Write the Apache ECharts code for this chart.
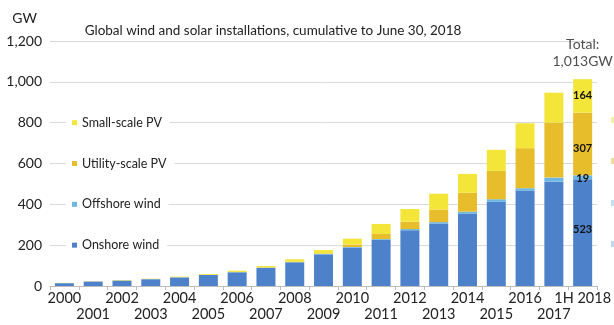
<!DOCTYPE html>
<html>
<head>
<meta charset="utf-8">
<script src="https://cdn.jsdelivr.net/npm/echarts@6/dist/echarts.min.js"></script>
<style>
  html, body { margin: 0; padding: 0; background: #fff; }
  #chart { width: 614px; height: 325px; }
</style>
</head>
<body>
<div id="chart"></div>
<script>
// Cumulative installed capacity, GW
const categories = ['2000', '2001', '2002', '2003', '2004', '2005', '2006', '2007', '2008', '2009',
  '2010', '2011', '2012', '2013', '2014', '2015', '2016', '2017', '1H 2018'];
const onshoreWind = [14, 22, 27, 33, 42, 54, 67, 89, 116, 155, 188, 226, 273, 306, 355, 412, 466, 511, 523];
const offshoreWind = [0, 0, 0, 1, 1, 1, 1, 1, 1, 2, 3, 4, 6, 7, 9, 13, 13, 20, 19];
const utilityPV = [0, 0, 0, 0, 0, 0, 1, 1, 2, 3, 12, 25, 36, 61, 93, 139, 196, 269, 307];
const smallPV = [1, 1, 2, 2, 3, 4, 6, 7, 12, 16, 29, 49, 62, 78, 92, 103, 122, 147, 164];
const yTicks = [0, 200, 400, 600, 800, 1000, 1200];

const FONT = 'Lato';
const last = categories.length - 1;
const totals = categories.map((c, i) => onshoreWind[i] + offshoreWind[i] + utilityPV[i] + smallPV[i]);
const fmt = v => v.toLocaleString('en-US');

const seriesDefs = [
  { name: 'Onshore wind', values: onshoreWind, color: '#4d82cb', offset: [0, -3] },
  { name: 'Offshore wind', values: offshoreWind, color: '#6cb7e4', offset: [0, 1] },
  { name: 'Utility-scale PV', values: utilityPV, color: '#e8bd2c', offset: [0, 4] },
  { name: 'Small-scale PV', values: smallPV, color: '#f3e639', offset: [0, 0] }
];

// Only the latest bar carries its segment values
const barSeries = seriesDefs.map(s => ({
  name: s.name,
  type: 'bar',
  stack: 'capacity',
  barWidth: 19,
  itemStyle: { color: s.color },
  emphasis: { disabled: true },
  data: s.values.map((v, i) => i === last ? {
    value: v,
    label: {
      show: true, position: 'inside', offset: s.offset,
      fontFamily: FONT, fontSize: 11, fontWeight: 'bold', color: '#111'
    }
  } : v)
}));

// Total above the latest bar
const totalSeries = {
  name: 'Total',
  type: 'scatter',
  symbolSize: 0,
  silent: true,
  data: totals.map((t, i) => i === last ? t : '-'),
  label: {
    show: true, position: 'top', distance: 9,
    fontFamily: FONT, fontSize: 14, lineHeight: 17, color: '#222',
    formatter: p => 'Total:\n' + fmt(p.value) + 'GW'
  }
};

// One legend per series, each sitting on its own gridline
const gridTop = 41, gridHeight = 245;
const legendRows = [
  { name: 'Small-scale PV', level: 800 },
  { name: 'Utility-scale PV', level: 600 },
  { name: 'Offshore wind', level: 400 },
  { name: 'Onshore wind', level: 200 }
];
const legends = legendRows.map(r => ({
  data: [r.name],
  left: 66,
  top: gridTop + gridHeight * (1 - r.level / 1200) - 7,
  orient: 'horizontal',
  itemWidth: 5,
  itemHeight: 5,
  icon: 'rect',
  backgroundColor: '#fff',
  padding: [0, 8, 0, 6],
  selectedMode: false,
  textStyle: { fontFamily: FONT, fontSize: 12.5, color: '#222', lineHeight: 14 }
}));

const chart = echarts.init(document.getElementById('chart'), null, { renderer: 'canvas' });
chart.setOption({
  animation: false,
  backgroundColor: '#fff',
  title: {
    text: 'Global wind and solar installations, cumulative to June 30, 2018',
    left: 268, top: 19, textAlign: 'center',
    textStyle: { fontFamily: FONT, fontSize: 13.5, fontWeight: 'normal', color: '#222' }
  },
  legend: legends,
  grid: { left: 50, right: 14, top: gridTop, height: gridHeight },
  xAxis: {
    type: 'category',
    data: categories,
    axisLine: { lineStyle: { color: '#bdbdbd', width: 1 } },
    axisTick: { show: true, length: 4, lineStyle: { color: '#bdbdbd' } },
    axisLabel: {
      interval: 0, margin: 4,
      fontFamily: FONT, fontSize: 14.5, lineHeight: 16, color: '#222',
      formatter: (v, i) => (i % 2 ? '\n' : '') + v
    }
  },
  yAxis: {
    type: 'value',
    min: yTicks[0], max: yTicks[yTicks.length - 1], interval: yTicks[1] - yTicks[0],
    name: 'GW',
    nameLocation: 'end',
    nameGap: 16,
    nameTextStyle: { fontFamily: FONT, fontSize: 14, color: '#222', align: 'right', padding: [0, 13, 0, 0] },
    axisLine: { show: false },
    axisTick: { show: false },
    axisLabel: { margin: 8, fontFamily: FONT, fontSize: 14, color: '#222', formatter: v => fmt(v) },
    splitLine: { lineStyle: { color: '#dadada', width: 1 } }
  },
  graphic: [
    { type: 'rect', left: 611, top: 117, shape: { width: 3, height: 6 }, style: { fill: '#f6f1a8' } },
    { type: 'rect', left: 611, top: 158, shape: { width: 3, height: 6 }, style: { fill: '#f2dc98' } },
    { type: 'rect', left: 611, top: 200, shape: { width: 3, height: 6 }, style: { fill: '#c4e3f2' } },
    { type: 'rect', left: 611, top: 241, shape: { width: 3, height: 6 }, style: { fill: '#c0d8ef' } }
  ],
  series: barSeries.concat([totalSeries])
});
</script>
</body>
</html>
